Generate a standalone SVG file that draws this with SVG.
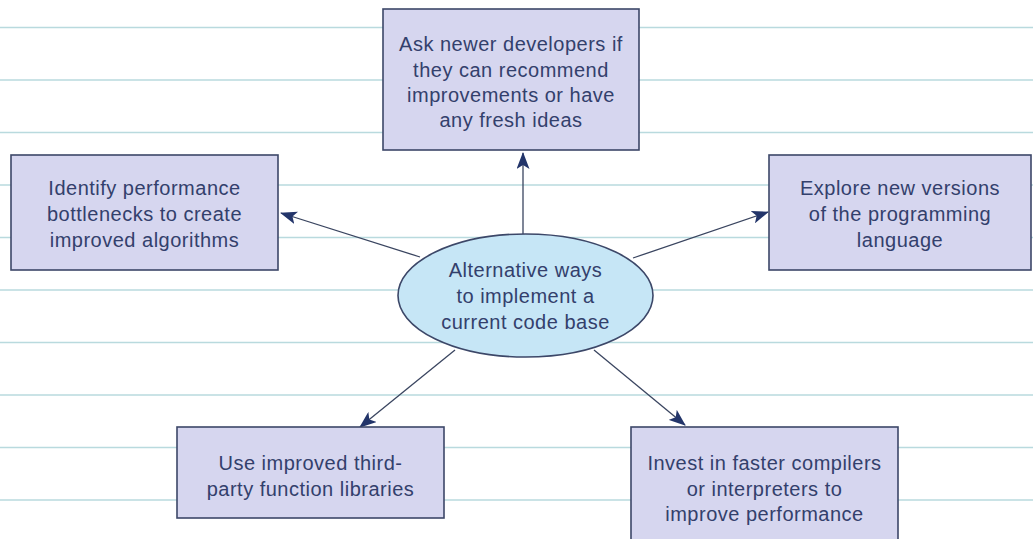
<svg xmlns="http://www.w3.org/2000/svg" width="1033" height="539" viewBox="0 0 1033 539">
<style>
.rule{stroke:#b9dade;stroke-width:1.3}
.box{fill:#d6d6ef;stroke:#3c4768;stroke-width:1.6}
.ell{fill:#c6e6f6;stroke:#3c4768;stroke-width:1.6}
.t{font-family:"Liberation Sans",Arial,sans-serif;font-size:20px;letter-spacing:0.5px;fill:#33406c;text-anchor:middle}
.c{stroke:#3a4560;stroke-width:1.3;fill:none;marker-end:url(#ah)}
</style>
<defs>
<marker id="ah" viewBox="0 0 17 13" refX="16" refY="6.5" markerWidth="17" markerHeight="13" markerUnits="userSpaceOnUse" orient="auto">
<path d="M0,0 L17,6.5 L0,13 L4,6.5 Z" fill="#23356a"/>
</marker>
</defs>
<rect width="1033" height="539" fill="#ffffff"/>
<g id="rules">
<line class="rule" x1="0" y1="27.5" x2="1033" y2="27.5"/>
<line class="rule" x1="0" y1="80" x2="1033" y2="80"/>
<line class="rule" x1="0" y1="132.5" x2="1033" y2="132.5"/>
<line class="rule" x1="0" y1="185" x2="1033" y2="185"/>
<line class="rule" x1="0" y1="237.5" x2="1033" y2="237.5"/>
<line class="rule" x1="0" y1="290" x2="1033" y2="290"/>
<line class="rule" x1="0" y1="342.5" x2="1033" y2="342.5"/>
<line class="rule" x1="0" y1="395" x2="1033" y2="395"/>
<line class="rule" x1="0" y1="447.5" x2="1033" y2="447.5"/>
<line class="rule" x1="0" y1="500" x2="1033" y2="500"/>
</g>
<g id="connectors">
<line class="c" x1="523" y1="234" x2="523" y2="153"/>
<line class="c" x1="420" y1="257" x2="281" y2="213"/>
<line class="c" x1="633" y1="258" x2="768" y2="212"/>
<line class="c" x1="455" y1="350" x2="360" y2="427"/>
<line class="c" x1="594" y1="350" x2="685" y2="425"/>
</g>
<g id="center">
<ellipse class="ell" cx="525.5" cy="295.5" rx="127.5" ry="61.5"/>
<text class="t" x="525.5" y="277">Alternative ways</text>
<text class="t" x="525.5" y="303">to implement a</text>
<text class="t" x="525.5" y="329">current code base</text>
</g>
<g id="top">
<rect class="box" x="383" y="9" width="256" height="141"/>
<text class="t" x="511" y="51">Ask newer developers if</text>
<text class="t" x="511" y="77">they can recommend</text>
<text class="t" x="511" y="102">improvements or have</text>
<text class="t" x="511" y="127">any fresh ideas</text>
</g>
<g id="left">
<rect class="box" x="11" y="155" width="267" height="115"/>
<text class="t" x="144.5" y="195">Identify performance</text>
<text class="t" x="144.5" y="221">bottlenecks to create</text>
<text class="t" x="144.5" y="247">improved algorithms</text>
</g>
<g id="right">
<rect class="box" x="769" y="155" width="262" height="115"/>
<text class="t" x="900" y="195">Explore new versions</text>
<text class="t" x="900" y="221">of the programming</text>
<text class="t" x="900" y="247">language</text>
</g>
<g id="bottomleft">
<rect class="box" x="177" y="427" width="267" height="91"/>
<text class="t" x="310.5" y="470">Use improved third-</text>
<text class="t" x="310.5" y="496">party function libraries</text>
</g>
<g id="bottomright">
<rect class="box" x="631" y="427" width="267" height="120"/>
<text class="t" x="764.5" y="470">Invest in faster compilers</text>
<text class="t" x="764.5" y="496">or interpreters to</text>
<text class="t" x="764.5" y="521">improve performance</text>
</g>
</svg>
